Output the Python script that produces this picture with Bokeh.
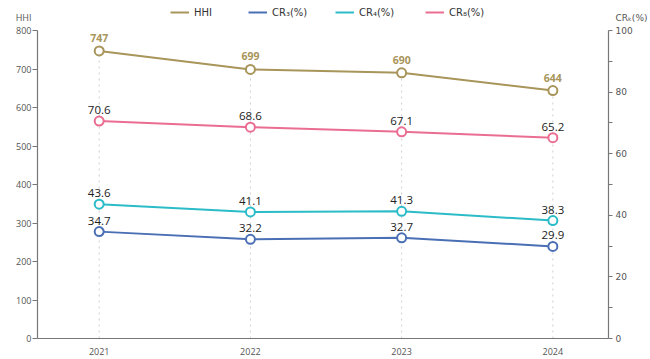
from bokeh.plotting import figure
from bokeh.models import (Range1d, LinearAxis, FixedTicker, Legend, LegendItem,
                          ColumnDataSource)
from bokeh.embed import file_html
from bokeh.resources import INLINE
from bokeh.core.properties import value

years = ["2021", "2022", "2023", "2024"]
xpos = [0, 1, 2, 3]
hhi = [747, 699, 690, 644]
cr3 = [34.7, 32.2, 32.7, 29.9]
cr4 = [43.6, 41.1, 41.3, 38.3]
cr8 = [70.6, 68.6, 67.1, 65.2]
hhi_ticks = [0, 100, 200, 300, 400, 500, 600, 700, 800]
cr_ticks = [0, 20, 40, 60, 80, 100]
cr_minor = [10, 30, 50, 70, 90]
left_title = "HHI"
right_title = "CRₖ(%)"

C_HHI = "#a8955a"
C_CR3 = "#4a6fb5"
C_CR4 = "#2bbcc8"
C_CR8 = "#ea6d92"
AX = "#777777"
LBL = "#555555"
FONT = "Open Sans"
SUBFONT = "DejaVu Sans"

# frame spans the full height; axes are bounded to their tick range
TOP = 338.0 / 308.0
HHI_TITLE_POS = 834      # vertical spot of the axis titles (layout only)
CR_TITLE_POS = 104.2

p = figure(width=650, height=359, output_backend="svg", toolbar_location=None,
           x_range=Range1d(-0.408, 3.368), y_range=Range1d(0, 800 * TOP),
           min_border_left=37, min_border_right=40, min_border_top=0,
           min_border_bottom=21)
p.outline_line_color = None
p.background_fill_color = "white"
p.extra_y_ranges = {"cr": Range1d(0, 100 * TOP)}

# x axis
xa = p.xaxis[0]
xa.ticker = FixedTicker(ticks=xpos)
xa.major_label_overrides = {i: y for i, y in zip(xpos, years)}
xa.major_tick_line_color = None
xa.minor_tick_line_color = None
xa.axis_line_color = AX
xa.axis_line_width = 1.2
xa.major_label_text_font_size = "9px"
xa.major_label_text_color = LBL
xa.major_label_text_font = FONT
xa.major_label_standoff = 3

# left: inner axis (line + ticks), outer axis (labels + title)
ya = p.yaxis[0]
ya.ticker = FixedTicker(ticks=hhi_ticks)
ya.bounds = (0, 800)
ya.minor_tick_line_color = None
ya.major_tick_in = 0
ya.major_tick_out = 5
ya.axis_line_color = AX
ya.major_tick_line_color = AX
ya.axis_line_width = 1.2
ya.major_label_overrides = {t: "" for t in hhi_ticks}
ya.major_label_standoff = 0

ya2 = LinearAxis(ticker=FixedTicker(ticks=hhi_ticks + [HHI_TITLE_POS]))
ya2.major_label_overrides = {HHI_TITLE_POS: left_title}
ya2.axis_line_color = None
ya2.major_tick_line_color = None
ya2.minor_tick_line_color = None
ya2.major_tick_in = 0
ya2.major_tick_out = 0
ya2.major_label_standoff = 1
ya2.major_label_text_font_size = "9px"
ya2.major_label_text_color = LBL
ya2.major_label_text_font = FONT
p.add_layout(ya2, "left")

# right: inner axis (line + ticks), outer axis (labels + title)
ra = LinearAxis(y_range_name="cr", ticker=FixedTicker(ticks=cr_ticks, minor_ticks=cr_minor),
                bounds=(0, 100))
ra.major_tick_in = 0
ra.major_tick_out = 4
ra.minor_tick_in = 0
ra.minor_tick_out = 4
ra.axis_line_color = AX
ra.major_tick_line_color = AX
ra.minor_tick_line_color = AX
ra.axis_line_width = 1.2
ra.major_label_overrides = {t: "" for t in cr_ticks}
ra.major_label_standoff = 0
p.add_layout(ra, "right")

ra2 = LinearAxis(y_range_name="cr", ticker=FixedTicker(ticks=cr_ticks + [CR_TITLE_POS]))
ra2.major_label_overrides = {CR_TITLE_POS: right_title}
ra2.axis_line_color = None
ra2.major_tick_line_color = None
ra2.minor_tick_line_color = None
ra2.major_tick_in = 0
ra2.major_tick_out = 0
ra2.major_label_standoff = 3
ra2.major_label_text_font_size = "9px"
ra2.major_label_text_color = LBL
ra2.major_label_text_font = SUBFONT
p.add_layout(ra2, "right")

p.ygrid.grid_line_color = None
p.xgrid.grid_line_color = None

# dotted drop lines at each year
p.segment(x0=xpos, y0=[0] * len(xpos), x1=xpos, y1=hhi, line_color="#cfcfcf",
          line_dash="dotted", line_width=1)

series = [
    ("HHI", hhi, C_HHI, "default", [str(v) for v in hhi], C_HHI, "10.5px", -9),
    ("CR₃(%)", cr3, C_CR3, "cr", [f"{v:.1f}" for v in cr3], "#222222", "11.5px", -7),
    ("CR₄(%)", cr4, C_CR4, "cr", [f"{v:.1f}" for v in cr4], "#222222", "11.5px", -7),
    ("CR₈(%)", cr8, C_CR8, "cr", [f"{v:.1f}" for v in cr8], "#222222", "11.5px", -7),
]

legend_x = [133, 211, 298, 388]
for (name, vals, col, rng, labs, tcol, tsize, yoff), lx in zip(series, legend_x):
    src = ColumnDataSource(dict(x=xpos, y=vals, t=labs))
    ln = p.line("x", "y", source=src, line_color=col, line_width=2, y_range_name=rng)
    p.scatter("x", "y", source=src, size=9, fill_color="white", line_color=col,
              line_width=2, y_range_name=rng)
    p.text("x", "y", text="t", source=src, y_range_name=rng, text_align="center",
           text_baseline="bottom", y_offset=yoff, text_font_size=tsize,
           text_color=tcol, text_font=value(FONT),
           text_font_style="bold" if rng == "default" else "normal")
    lg = Legend(items=[LegendItem(label=name, renderers=[ln])], location=(lx, 319),
                orientation="horizontal", border_line_color=None,
                background_fill_alpha=0, padding=0, margin=0, glyph_width=19,
                glyph_height=14, label_standoff=5, label_text_font_size="10px",
                label_text_font=SUBFONT, label_text_color="#333333",
                label_height=14)
    p.add_layout(lg)

open("out.html", "w").write(file_html(p, INLINE))
